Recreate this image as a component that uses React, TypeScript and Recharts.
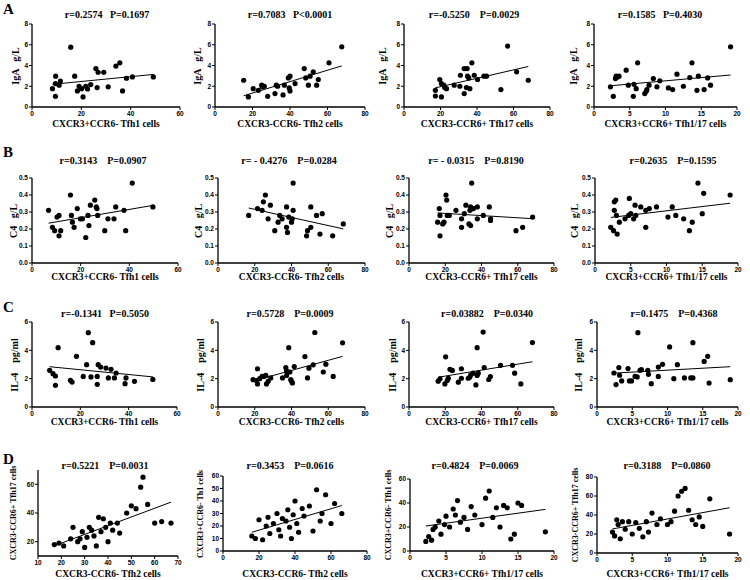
import React from 'react';
import { ScatterChart, Scatter, XAxis, YAxis } from 'recharts';

// ---------- data ----------
const a1X = [8.3,9.6,9.5,9.5,11.0,11.5,15.7,17.3,18.4,19.1,20.1,20.7,21.8,22.5,23.8,25.9,26.4,26.8,29.1,30.9,34.0,35.6,36.7,38.3,40.7,49.2];
const a1Y = [1.77,2.97,2.26,1.03,2.1,2.5,5.77,2.97,1.55,2.0,1.77,0.97,2.0,1.74,2.16,3.7,1.87,3.35,3.35,1.94,3.94,4.26,1.55,2.77,2.9,2.9];
const a2X = [15.3,17.8,20.4,23.1,24.9,25.2,26.3,28.1,32.0,32.7,33.4,36.3,37.0,39.1,40.0,39.6,40.0,42.7,47.6,48.4,49.8,50.7,52.4,54.2,55.1,60.8,67.6];
const a2Y = [2.58,0.97,1.77,1.61,2.1,1.94,2.0,1.03,1.29,2.1,2.0,1.16,2.1,2.8,2.97,1.84,1.55,2.26,3.7,2.8,2.1,2.97,3.39,2.1,2.65,4.26,5.8];
const a3X = [17.2,17.2,19.6,20.5,20.5,21.8,22.3,23.3,27.5,30.6,30.9,33.0,33.0,34.2,34.6,34.8,35.5,36.1,37.2,38.5,40.3,43.8,45.2,53.1,56.8,61.7,68.1];
const a3Y = [1.61,1.06,2.65,0.97,2.26,2.1,1.87,1.77,2.1,2.0,3.06,3.7,1.29,1.87,3.7,2.97,2.8,1.77,4.26,3.06,2.65,2.97,2.97,1.68,5.87,3.39,2.58];
const a4X = [2.3,2.7,3.0,3.1,3.3,3.5,4.5,4.8,5.6,5.5,5.9,6.1,7.1,7.3,7.4,7.7,8.3,8.8,9.2,10.4,11.0,11.6,12.5,13.4,13.7,14.4,14.6,15.4,15.9,16.3,19.1];
const a4Y = [1.94,1.03,2.74,2.97,2.9,2.97,3.55,2.1,2.19,1.03,1.77,4.26,1.29,1.52,1.68,2.1,2.74,1.94,2.52,1.84,1.68,3.16,2.0,2.84,4.26,1.61,2.97,1.68,2.8,2.1,5.8];

const b1X = [6.8,8.4,9.3,10.3,11.1,11.1,11.8,15.8,16.2,16.6,17.3,18.6,19.9,20.7,22.1,23.0,23.4,24.0,25.8,26.4,26.7,27.0,29.9,31.2,33.7,34.4,37.8,38.5,41.2,49.7];
const b1Y = [0.31,0.21,0.19,0.27,0.28,0.16,0.19,0.40,0.28,0.24,0.21,0.32,0.26,0.26,0.15,0.28,0.22,0.34,0.37,0.33,0.32,0.28,0.19,0.26,0.26,0.33,0.31,0.19,0.47,0.33];
const b2X = [16.7,21.5,24.0,24.7,25.8,27.3,28.5,30.9,32.7,33.6,34.9,37.3,37.3,37.8,38.5,40.0,40.4,40.9,40.9,48.2,48.7,50.5,50.5,53.6,55.5,56.7,62.4,68.2];
const b2Y = [0.28,0.32,0.31,0.36,0.40,0.26,0.34,0.19,0.24,0.28,0.26,0.33,0.21,0.18,0.27,0.24,0.26,0.31,0.47,0.16,0.19,0.21,0.33,0.28,0.17,0.29,0.16,0.23];
const b3X = [15.8,16.7,17.1,17.1,18.6,19.3,20.4,20.8,21.1,22.2,25.9,29.0,29.0,30.5,31.4,33.1,33.6,34.0,34.0,34.6,35.1,35.5,37.7,37.7,41.0,44.3,45.0,45.0,59.0,62.7,68.2];
const b3Y = [0.24,0.32,0.28,0.16,0.23,0.24,0.40,0.37,0.28,0.28,0.31,0.26,0.21,0.29,0.34,0.23,0.31,0.33,0.22,0.47,0.32,0.32,0.33,0.26,0.28,0.33,0.26,0.25,0.19,0.21,0.27];
const b4X = [2.2,2.6,2.7,2.7,2.9,3.0,3.1,3.4,4.2,4.7,4.8,5.0,5.4,5.6,5.7,6.4,7.1,7.1,7.6,8.6,10.2,10.8,11.3,12.4,13.2,13.6,14.4,15.0,15.2,18.9];
const b4Y = [0.21,0.19,0.36,0.31,0.37,0.28,0.17,0.24,0.26,0.28,0.38,0.29,0.26,0.34,0.28,0.33,0.31,0.21,0.32,0.33,0.27,0.33,0.28,0.26,0.19,0.24,0.47,0.29,0.41,0.40];

const c1X = [7.3,8.7,9.7,9.7,10.8,15.9,16.6,18.4,21.2,22.6,23.3,24.4,25.1,27.0,27.0,27.4,28.4,30.6,31.6,32.7,34.1,34.8,38.5,38.9,42.4,50.0];
const c1Y = [2.59,2.35,2.19,1.53,4.19,1.88,1.76,3.58,2.16,2.99,5.25,2.12,4.54,1.6,2.16,2.99,2.82,2.75,2.05,2.66,2.05,2.4,1.65,2.05,1.81,1.95];
const c2X = [19.1,20.9,21.5,21.5,22.7,24.0,25.1,26.0,26.4,27.3,28.7,35.1,36.9,37.3,37.3,38.5,39.1,39.6,40.0,40.5,41.5,47.3,48.7,49.5,51.8,52.7,57.3,58.7,62.7,67.8];
const c2Y = [1.93,1.86,2.70,1.63,2.0,2.16,2.16,2.23,1.63,1.81,2.05,2.05,2.79,2.56,2.23,4.19,2.47,1.93,1.81,1.70,2.86,3.56,2.05,2.74,2.98,5.26,2.47,3.02,2.16,4.53];
const c3X = [16.1,17.1,19.8,20.2,21.1,21.7,22.6,23.9,27.2,28.9,28.9,32.7,33.6,34.1,35.4,36.9,37.6,37.6,38.2,40.9,41.5,44.0,44.9,50.5,57.1,58.3,61.7,68.1];
const c3Y = [1.82,1.99,1.63,3.54,1.87,2.03,2.66,2.58,1.75,2.70,2.03,2.03,2.11,2.27,2.39,1.56,4.19,2.23,2.39,5.29,2.78,1.94,2.15,2.94,2.94,2.39,1.63,4.55];
const c4X = [2.4,2.7,3.1,3.2,3.5,4.4,4.6,4.9,5.4,5.7,5.8,6.1,6.3,7.2,7.3,7.7,8.7,8.7,9.3,10.3,10.9,11.4,12.4,13.3,13.6,13.6,15.2,15.7,15.9,18.9];
const c4Y = [2.40,1.58,2.78,2.24,1.84,2.71,1.84,1.84,2.16,2.12,5.25,2.59,2.64,2.59,2.31,1.65,2.16,2.82,3.01,4.24,2.0,2.99,2.05,2.05,2.05,4.54,3.22,3.58,1.69,1.93];

const d1X = [17,19,21,24,25,27,28,29,30,31,32,33,34,35,36,37,38,39,40,41,42,44,45,48,50,52,54,55,57,60,63,67];
const d1Y = [18,19,17,22,30,20,22,27,16,23,30,28,24,17,37,27,36,30,20,33,28,33,26,40,45,43,58,65,46,33,34,33];
const d2X = [16,18,20,22,24,25,26,28,30,31,32,33,35,36,37,38,39,40,41,42,44,45,48,50,52,54,55,57,60,62,66];
const d2Y = [12,10,25,9,20,27,14,22,30,17,12,26,24,33,19,10,29,40,22,15,34,28,36,16,49,24,30,45,22,38,30];
const d3X = [2.2,2.6,3.0,3.2,3.5,4.0,4.3,4.8,5.0,5.5,6.0,6.3,6.6,7.0,7.5,8.0,8.5,9.0,10.0,10.5,11.0,11.5,12.0,12.5,13.0,13.5,14.0,14.5,15.0,15.5,18.8];
const d3Y = [8,12,9,18,20,25,14,22,29,20,35,30,42,24,28,18,37,30,22,44,50,28,36,20,38,36,10,14,40,38,16];
const d4X = [2.2,2.5,2.8,3.0,3.3,3.6,4.0,4.5,5.0,5.5,6.0,6.5,7.0,7.3,7.8,8.5,9.0,10.0,10.5,11.0,11.5,12.0,12.5,13.0,13.5,14.0,14.5,15.0,16.0,18.8];
const d4Y = [22,18,35,30,15,33,25,33,20,32,26,17,33,22,42,30,36,30,33,44,60,65,68,45,35,30,38,28,57,20];

const titles = [
  'r=0.2574   P=0.1697', 'r=0.7083   P<0.0001', 'r=-0.5250    P=0.0029', 'r=0.1585   P=0.4030',
  'r=0.3143    P=0.0907', 'r= - 0.4276    P=0.0284', 'r= - 0.0315    P=0.8190', 'r=0.2635    P=0.1595',
  'r=-0.1341   P=0.5050', 'r=0.5728    P=0.0009', 'r=0.03882    P=0.0340', 'r=0.1475    P=0.4368',
  'r=0.5221    P=0.0031', 'r=0.3453    P=0.0616', 'r=0.4824    P=0.0069', 'r=0.3188    P=0.0860',
];
const xLabels = [
  'CXCR3+CCR6- Tfh1 cells', 'CXCR3-CCR6- Tfh2 cells', 'CXCR3-CCR6+ Tfh17 cells', 'CXCR3+CCR6+ Tfh1/17 cells',
  'CXCR3-CCR6- Tfh2 cells', 'CXCR3-CCR6- Tfh2 cells', 'CXCR3+CCR6+ Tfh1/17 cells', 'CXCR3+CCR6+ Tfh1/17 cells',
];
const yLabels = ['IgA   g/L', 'C4   g/L', 'IL-4    pg/ml', 'CXCR3-CCR6+ Tfh17 cells', 'CXCR3+CCR6- Th1 cells', 'CXCR3+CCR6- Tfh1 cells', 'CXCR3-CCR6+ Tfh17 cells'];
const rowLetters = ['A', 'B', 'C', 'D'];

const ticks60 = [0, 20, 40, 60];
const ticks80 = [0, 20, 40, 60, 80];
const ticks20 = [0, 5, 10, 15, 20];
const ticksIgA = [0, 2, 4, 6, 8];
const ticksC4 = [0, 0.1, 0.2, 0.3, 0.4, 0.5];
const ticksIL4 = [0, 2, 4, 6];

// ---------- layout ----------
type P = {
  xs: number[]; ys: number[]; l: number; r: number; t: number; b: number;
  xd: [number, number]; xt: number[]; yd: [number, number]; yt: number[];
  title: string; tx: number; ty: number; xl: string; xly: number; yl: string; ylx: number; ylSize?: number; dec?: number;
};

const panels: P[] = [
  { xs: a1X, ys: a1Y, l: 32, r: 180, t: 24, b: 107, xd: [0, 60], xt: ticks60, yd: [0, 8], yt: ticksIgA, title: titles[0], tx: 107, ty: 14, xl: xLabels[0], xly: 124, yl: yLabels[0], ylx: 15 },
  { xs: a2X, ys: a2Y, l: 215, r: 365, t: 24, b: 107, xd: [0, 80], xt: ticks80, yd: [0, 8], yt: ticksIgA, title: titles[1], tx: 290, ty: 14, xl: xLabels[1], xly: 124, yl: yLabels[0], ylx: 197 },
  { xs: a3X, ys: a3Y, l: 404, r: 550, t: 24, b: 107, xd: [0, 80], xt: ticks80, yd: [0, 8], yt: ticksIgA, title: titles[2], tx: 474, ty: 14, xl: xLabels[2], xly: 124, yl: yLabels[0], ylx: 382 },
  { xs: a4X, ys: a4Y, l: 594, r: 737, t: 24, b: 107, xd: [0, 20], xt: ticks20, yd: [0, 8], yt: ticksIgA, title: titles[3], tx: 660, ty: 14, xl: xLabels[3], xly: 124, yl: yLabels[0], ylx: 573 },

  { xs: b1X, ys: b1Y, l: 32, r: 178, t: 178, b: 263, xd: [0, 60], xt: ticks60, yd: [0, 0.5], yt: ticksC4, dec: 1, title: titles[4], tx: 103, ty: 160, xl: xLabels[0], xly: 277, yl: yLabels[1], ylx: 13 },
  { xs: b2X, ys: b2Y, l: 218, r: 365, t: 178, b: 263, xd: [0, 80], xt: ticks80, yd: [0, 0.5], yt: ticksC4, dec: 1, title: titles[5], tx: 289, ty: 160, xl: xLabels[1], xly: 277, yl: yLabels[1], ylx: 198 },
  { xs: b3X, ys: b3Y, l: 409, r: 554, t: 178, b: 263, xd: [0, 80], xt: ticks80, yd: [0, 0.5], yt: ticksC4, dec: 1, title: titles[6], tx: 476, ty: 160, xl: xLabels[2], xly: 277, yl: yLabels[1], ylx: 389 },
  { xs: b4X, ys: b4Y, l: 595, r: 738, t: 178, b: 263, xd: [0, 20], xt: ticks20, yd: [0, 0.5], yt: ticksC4, dec: 1, title: titles[7], tx: 673, ty: 160, xl: xLabels[3], xly: 277, yl: yLabels[1], ylx: 574 },

  { xs: c1X, ys: c1Y, l: 32, r: 177, t: 322, b: 407, xd: [0, 60], xt: ticks60, yd: [0, 6], yt: ticksIL4, title: titles[8], tx: 105, ty: 313, xl: xLabels[0], xly: 422, yl: yLabels[2], ylx: 14 },
  { xs: c2X, ys: c2Y, l: 218, r: 365, t: 322, b: 407, xd: [0, 80], xt: ticks80, yd: [0, 6], yt: ticksIL4, title: titles[9], tx: 290, ty: 313, xl: xLabels[1], xly: 422, yl: yLabels[2], ylx: 200 },
  { xs: c3X, ys: c3Y, l: 409, r: 554, t: 322, b: 407, xd: [0, 80], xt: ticks80, yd: [0, 6], yt: ticksIL4, title: titles[10], tx: 487, ty: 313, xl: xLabels[2], xly: 422, yl: yLabels[2], ylx: 392 },
  { xs: c4X, ys: c4Y, l: 597, r: 738, t: 322, b: 407, xd: [0, 20], xt: ticks20, yd: [0, 6], yt: ticksIL4, title: titles[11], tx: 674, ty: 313, xl: xLabels[3], xly: 422, yl: yLabels[2], ylx: 578 },

  { xs: d1X, ys: d1Y, l: 38, r: 178, t: 470, b: 556, xd: [10, 70], xt: [10, 20, 30, 40, 50, 60, 70], yd: [10, 70], yt: [20, 40, 60], title: titles[12], tx: 105, ty: 465, xl: xLabels[4], xly: 574, yl: yLabels[3], ylx: 13, ylSize: 8 },
  { xs: d2X, ys: d2Y, l: 223, r: 367, t: 476, b: 551, xd: [0, 80], xt: ticks80, yd: [0, 60], yt: [0, 10, 20, 30, 40, 50, 60], title: titles[13], tx: 290, ty: 465, xl: xLabels[5], xly: 574, yl: yLabels[4], ylx: 200, ylSize: 8 },
  { xs: d3X, ys: d3Y, l: 410, r: 554, t: 479, b: 551, xd: [0, 20], xt: ticks20, yd: [0, 60], yt: [0, 20, 40, 60], title: titles[14], tx: 475, ty: 465, xl: xLabels[6], xly: 574, yl: yLabels[5], ylx: 388, ylSize: 8 },
  { xs: d4X, ys: d4Y, l: 597, r: 738, t: 477, b: 553, xd: [0, 20], xt: ticks20, yd: [0, 80], yt: [0, 20, 40, 60, 80], title: titles[15], tx: 667, ty: 465, xl: xLabels[7], xly: 574, yl: yLabels[6], ylx: 575, ylSize: 8 },
];

const letterPos = [2, 145, 300, 452];

const SERIF = '"Liberation Serif", "Times New Roman", serif';
const SANS = '"Liberation Sans", Arial, sans-serif';

function regression(xs: number[], ys: number[]) {
  const n = xs.length;
  const mx = xs.reduce((s, v) => s + v, 0) / n;
  const my = ys.reduce((s, v) => s + v, 0) / n;
  let sxy = 0, sxx = 0;
  for (let i = 0; i < n; i++) { sxy += (xs[i] - mx) * (ys[i] - my); sxx += (xs[i] - mx) ** 2; }
  const k = sxy / sxx;
  const x0 = Math.min(...xs), x1 = Math.max(...xs);
  return [{ x: x0, y: my + k * (x0 - mx) }, { x: x1, y: my + k * (x1 - mx) }];
}

const Dot = (props: any) => <circle cx={props.cx} cy={props.cy} r={2.6} fill="#000" />;
const NoDot = () => <g />;

function Panel({ p }: { p: P }) {
  const MT = 4, MR = 8, YW = 22, XH = 16;
  const w = p.r - p.l, h = p.b - p.t;
  const data = p.xs.map((x, i) => ({ x, y: p.ys[i] }));
  const line = regression(p.xs, p.ys);
  const tickStyle = { fontSize: 6.5, fontWeight: 'bold', fontFamily: SANS, fill: '#000' } as any;
  return (
    <>
      <div style={{ position: 'absolute', left: p.l - YW, top: p.t - MT }}>
        <ScatterChart width={YW + w + MR} height={MT + h + XH} margin={{ top: MT, right: MR, bottom: 0, left: 0 }}>
          <XAxis type="number" dataKey="x" domain={p.xd} ticks={p.xt} interval={0} height={XH} tick={tickStyle}
            tickSize={3} tickMargin={1} axisLine={{ stroke: '#000', strokeWidth: 1.3 }} tickLine={{ stroke: '#000', strokeWidth: 1 }} allowDataOverflow />
          <YAxis type="number" dataKey="y" domain={p.yd} ticks={p.yt} interval={0} width={YW} tick={tickStyle}
            tickFormatter={(v: number) => (p.dec ? v.toFixed(p.dec) : String(v))}
            tickSize={3} tickMargin={1} axisLine={{ stroke: '#000', strokeWidth: 1.3 }} tickLine={{ stroke: '#000', strokeWidth: 1 }} allowDataOverflow />
          <Scatter data={data} shape={Dot} isAnimationActive={false} />
          <Scatter data={line} shape={NoDot} line={{ stroke: '#000', strokeWidth: 1 }} isAnimationActive={false} />
        </ScatterChart>
      </div>
      <div style={{ position: 'absolute', left: p.tx, top: p.ty, transform: 'translate(-50%,-50%)', whiteSpace: 'pre', font: `bold 10px ${SERIF}`, color: '#000' }}>{p.title}</div>
      <div style={{ position: 'absolute', left: (p.l + p.r) / 2, top: p.xly, transform: 'translate(-50%,-50%)', whiteSpace: 'pre', font: `bold 9.5px ${SERIF}`, color: '#000' }}>{p.xl}</div>
      <div style={{ position: 'absolute', left: p.ylx, top: (p.t + p.b) / 2, transform: 'translate(-50%,-50%) rotate(-90deg)', whiteSpace: 'pre', font: `bold ${p.ylSize ?? 10}px ${SERIF}`, color: '#000' }}>{p.yl}</div>
    </>
  );
}

export default function App() {
  return (
    <div style={{ position: 'absolute', left: 0, top: 0, width: 750, height: 580, background: '#fff', overflow: 'hidden' }}>
      {rowLetters.map((L, i) => (
        <div key={L} style={{ position: 'absolute', left: 3, top: letterPos[i], font: `bold 15px ${SERIF}`, lineHeight: '15px' }}>{L}</div>
      ))}
      {panels.map((p, i) => <Panel key={i} p={p} />)}
    </div>
  );
}
